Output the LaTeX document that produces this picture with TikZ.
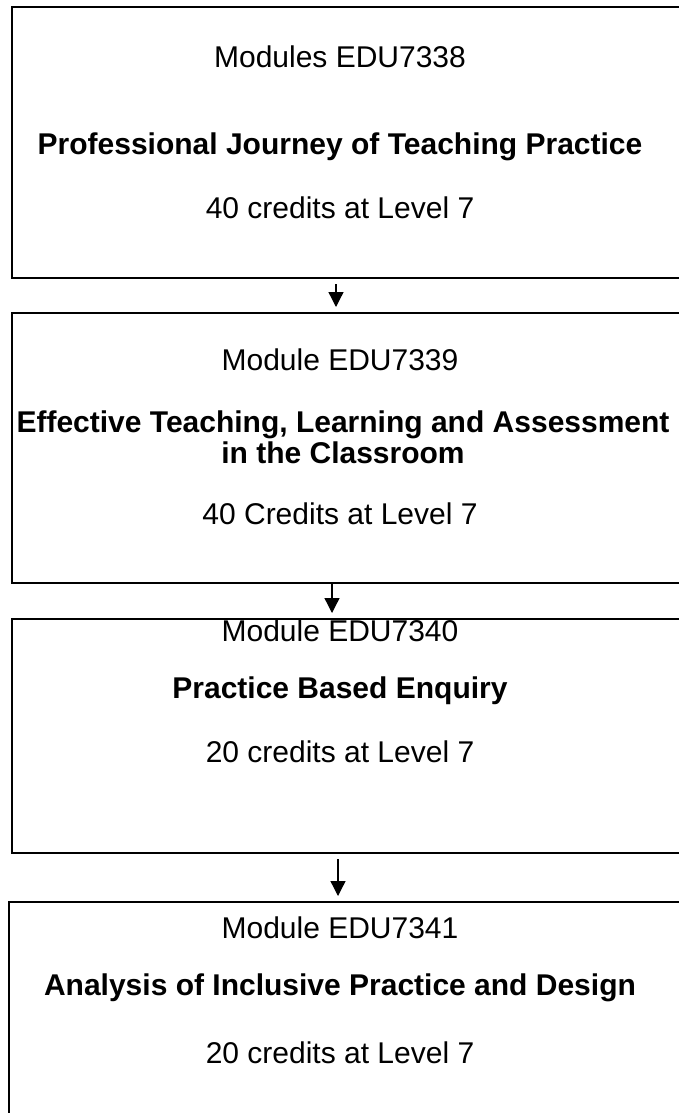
\documentclass[tikz,border=0pt]{standalone}
\usepackage{fontspec}
\setmainfont{Liberation Sans}
\usetikzlibrary{arrows.meta}

\begin{document}
\begin{tikzpicture}[x=1pt,y=-1pt,inner sep=0pt,
  box/.style={rectangle,draw=black,line width=2pt,anchor=north west,minimum width=720pt},
  txt/.style={font=\fontsize{30}{31}\selectfont,align=center},
  arr/.style={-{Triangle[width=15pt,length=15pt]},line width=1.3pt,shorten <=5pt,shorten >=5pt}]

\useasboundingbox (0,0) rectangle (679,1113);

\node[box,minimum height=271pt] (M1) at (11,6) {};
\node[box,minimum height=270pt] (M2) at (11,312) {};
\node[box,minimum height=234pt] (M3) at (11,618) {};
\node[box,minimum height=300pt] (M4) at (8,901) {};

\node[txt] (c1) at (340,57) {Modules EDU7338};
\node[txt] (t1) at (340,147) {\bfseries Professional Journey of Teaching Practice};
\node[txt] (k1) at (340,208) {40 credits at Level 7};

\node[txt] (c2) at (340,360) {Module EDU7339};
\node[txt] (t2) at (343,437) {\bfseries Effective Teaching, Learning and Assessment\\\bfseries in the Classroom};
\node[txt] (k2) at (340,514) {40 Credits at Level 7};

\node[txt] (c3) at (340,631) {Module EDU7340};
\node[txt] (t3) at (340,691) {\bfseries Practice Based Enquiry};
\node[txt] (k3) at (340,752) {20 credits at Level 7};

\node[txt] (c4) at (340,928) {Module EDU7341};
\node[txt] (t4) at (340,988) {\bfseries Analysis of Inclusive Practice and Design};
\node[txt] (k4) at (340,1053) {20 credits at Level 7};

\draw[arr] ([xshift=-4pt]M1.south -| c1) -- ([xshift=-4pt]M2.north -| c1);
\draw[arr,shorten <=0pt] ([xshift=-8pt]M2.south -| c2) -- ([xshift=-8pt]M3.north -| c2);
\draw[arr] ([xshift=-2pt]M3.south -| c3) -- ([xshift=-2pt]M4.north -| c3);

\end{tikzpicture}
\end{document}
